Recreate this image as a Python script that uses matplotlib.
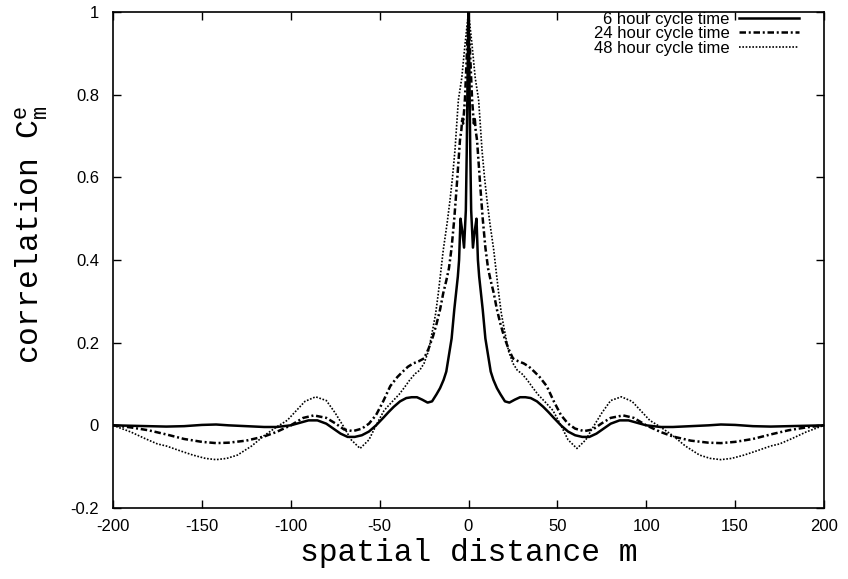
import matplotlib
matplotlib.use("Agg")
import matplotlib.pyplot as plt
import numpy as np

# ---- data (positive half; curves are symmetric) ----
x6 = [0, 0.5, 1, 1.5, 2.5, 3.5, 4.5, 5.3, 6, 7, 8, 9.5, 11, 12.5, 14, 16, 18, 20.5,
      23, 26, 29, 32, 35, 38.5, 42, 45, 48, 52, 56, 60, 64, 68, 72, 76, 80, 85, 90,
      95, 100, 108, 115, 125, 135, 142, 150, 160, 170, 180, 190, 200]
y6 = [1.0, 0.85, 0.66, 0.52, 0.43, 0.47, 0.50, 0.40, 0.36, 0.32, 0.28, 0.21, 0.17,
      0.13, 0.11, 0.09, 0.075, 0.058, 0.055, 0.062, 0.068, 0.068, 0.066, 0.058,
      0.045, 0.032, 0.018, 0.0, -0.015, -0.024, -0.028, -0.028, -0.02, -0.008,
      0.004, 0.012, 0.012, 0.006, 0.0, -0.004, -0.004, -0.002, 0.0, 0.002, 0.001,
      -0.002, -0.003, -0.002, -0.001, 0.0]

x24 = [0, 1, 2, 3, 3.5, 4, 4.8, 5.7, 6.6, 8, 9.5, 11, 12.5, 14.2, 16, 18, 20, 22.5,
       25, 28, 31, 34, 37, 40, 44, 48, 52, 56, 60, 65, 70, 75, 80, 87, 93, 100, 108,
       115, 125, 135, 142, 150, 160, 170, 180, 190, 200]
y24 = [1.0, 0.89, 0.79, 0.73, 0.745, 0.715, 0.69, 0.635, 0.58, 0.50, 0.43, 0.38,
       0.35, 0.32, 0.28, 0.245, 0.215, 0.185, 0.162, 0.155, 0.15, 0.142, 0.13,
       0.117, 0.095, 0.058, 0.025, 0.004, -0.008, -0.014, -0.01, 0.005, 0.018,
       0.024, 0.018, 0.0, -0.016, -0.027, -0.037, -0.042, -0.043, -0.04, -0.033,
       -0.022, -0.012, -0.005, 0.0]

x48 = [0, 2, 3.8, 4.7, 5.7, 6.6, 7.6, 9, 10.4, 12, 14.2, 15.5, 17, 18.5, 20, 22.5,
       25, 27.5, 30, 33, 36, 39, 43, 47.5, 52, 56, 61, 66, 70, 75, 80, 86, 92, 97,
       102, 108, 115, 122, 130, 136, 142, 148, 155, 162, 170, 175, 182, 190, 200]
y48 = [1.0, 0.92, 0.84, 0.815, 0.787, 0.73, 0.666, 0.60, 0.545, 0.49, 0.424, 0.375,
       0.319, 0.27, 0.235, 0.18, 0.15, 0.133, 0.125, 0.11, 0.092, 0.075, 0.057,
       0.036, 0.0, -0.035, -0.056, -0.035, -0.005, 0.03, 0.06, 0.069, 0.058, 0.035,
       0.012, -0.004, -0.025, -0.05, -0.072, -0.08, -0.083, -0.08, -0.072, -0.062,
       -0.05, -0.045, -0.032, -0.016, 0.0]

labels = ["6 hour cycle time", "24 hour cycle time", "48 hour cycle time"]
xticks = [-200, -150, -100, -50, 0, 50, 100, 150, 200]
yticks = [-0.2, 0, 0.2, 0.4, 0.6, 0.8, 1]
yticklabels = ["-0.2", "0", "0.2", "0.4", "0.6", "0.8", "1"]


def full(xs, ys):
    xs = np.asarray(xs, float)
    ys = np.asarray(ys, float)
    return (np.concatenate([-xs[:0:-1], xs]), np.concatenate([ys[:0:-1], ys]))


plt.rcParams["font.family"] = ["Liberation Sans", "DejaVu Sans"]
plt.rcParams["mathtext.fontset"] = "custom"
plt.rcParams["mathtext.rm"] = "Liberation Mono"
plt.rcParams["mathtext.it"] = "Liberation Mono"

fig = plt.figure(figsize=(8.48, 5.79), dpi=100)
ax = fig.add_axes([113 / 848, 1 - 508 / 579, 711 / 848, 496 / 579])

X, Y = full(x6, y6)
ax.plot(X, Y, color="black", lw=1.8, ls="-", label=labels[0])
X, Y = full(x24, y24)
ax.plot(X, Y, color="black", lw=1.8, ls=(0, (2.6, 1.1, 0.8, 1.1)), label=labels[1])
X, Y = full(x48, y48)
ax.plot(X, Y, color="black", lw=1.2, ls=(0, (1, 1)), label=labels[2])

ax.set_xlim(-200, 200)
ax.set_ylim(-0.2, 1.0)
ax.set_xticks(xticks)
ax.set_xticklabels([str(t) for t in xticks])
ax.set_yticks(yticks)
ax.set_yticklabels(yticklabels)
ax.tick_params(direction="in", length=6, width=1, top=True, right=True,
               labelsize=12, pad=8)
ax.tick_params(axis="y", pad=10)
for s in ax.spines.values():
    s.set_linewidth(1.2)

ax.set_xlabel("spatial distance m", family="Liberation Mono", fontsize=22.5, labelpad=3)
ax.set_ylabel(r"correlation C$^{\rm e}_{\rm m}$", family="Liberation Mono", fontsize=22.5)
ax.yaxis.set_label_coords(-0.088, 0.55)

leg = ax.legend(loc="upper right", frameon=False, markerfirst=False, fontsize=12,
                handlelength=3.6, handletextpad=0.55, labelspacing=-0.03,
                borderaxespad=0.0, bbox_to_anchor=(0.974, 1.014))
for t in leg.get_texts():
    t.set_ha("right")

fig.savefig("out.png", dpi=100)
